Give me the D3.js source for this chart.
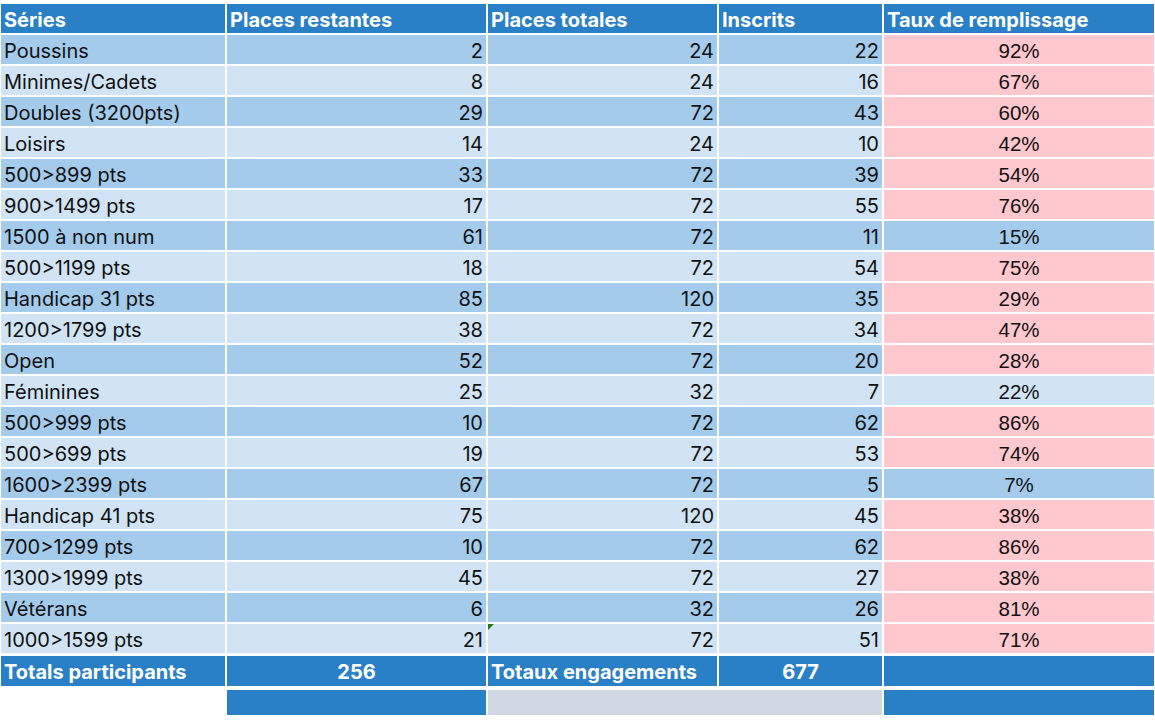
<!DOCTYPE html>
<html><head><meta charset="utf-8">
<script src="https://cdn.jsdelivr.net/npm/d3@7"></script>
<style>html,body{margin:0;padding:0;background:#fff;overflow:hidden}</style>
</head><body>
<svg id="c" width="1155" height="720"></svg>
<script>
const headers = ["Séries","Places restantes","Places totales","Inscrits","Taux de remplissage"];
const series = ["Poussins","Minimes/Cadets","Doubles (3200pts)","Loisirs","500>899 pts","900>1499 pts","1500 à non num","500>1199 pts","Handicap 31 pts","1200>1799 pts","Open","Féminines","500>999 pts","500>699 pts","1600>2399 pts","Handicap 41 pts","700>1299 pts","1300>1999 pts","Vétérans","1000>1599 pts"];
const restantes = [2,8,29,14,33,17,61,18,85,38,52,25,10,19,67,75,10,45,6,21];
const totales = [24,24,72,24,72,72,72,72,120,72,72,32,72,72,72,120,72,72,32,72];
const inscrits = [22,16,43,10,39,55,11,54,35,34,20,7,62,53,5,45,62,27,26,51];
const taux = [92,67,60,42,54,76,15,75,29,47,28,22,86,74,7,38,86,38,81,71];
const totalLabels = ["Totals participants","Totaux engagements"];
const totalValues = [256,677];

const svg = d3.select("#c");
const colEdges = [0,226,487,718,883,1155];
const C = { header:"#2A80C6", dark:"#A4CBEB", light:"#D0E4F5", pink:"#FFC7CE", gray:"#D0D9E3", white:"#ffffff" };
const FONT = "Inter, 'Noto Sans', sans-serif";
const FONTP = "'Liberation Sans', Arial, sans-serif";
const FS = 20;

const y = d3.scaleBand().domain(d3.range(series.length)).range([34, 34 + 31*series.length]).padding(0);
const H = y.bandwidth();

// header
const hdr = svg.append("g");
headers.forEach((h,i)=>{
  hdr.append("rect").attr("x",colEdges[i]).attr("y",3).attr("width",colEdges[i+1]-colEdges[i]).attr("height",31)
    .attr("fill",C.header).attr("stroke","#fff").attr("stroke-width",2);
  hdr.append("text").attr("x",colEdges[i]+4).attr("y",27).text(h)
    .attr("font-family",FONT).attr("font-weight",700).attr("font-size",FS).attr("fill","#fff");
});

// rows
const rows = svg.append("g").selectAll("g").data(series).join("g")
  .attr("transform",(d,i)=>`translate(0,${y(i)})`);
const base = i => i%2===0 ? C.dark : C.light;
for (let c=0;c<5;c++){
  rows.append("rect").attr("x",colEdges[c]).attr("y",0).attr("width",colEdges[c+1]-colEdges[c]).attr("height",H)
    .attr("fill",(d,i)=> c===4 && taux[i]>=25 ? C.pink : base(i))
    .attr("stroke","#fff").attr("stroke-width",2);
}
const ty = H/2 + 8;
rows.append("text").attr("x",4).attr("y",ty).text(d=>d)
  .attr("font-family",FONT).attr("font-size",FS).attr("fill","#111");
[restantes,totales,inscrits].forEach((arr,k)=>{
  rows.append("text").attr("x",colEdges[k+2]-4).attr("y",ty).attr("text-anchor","end")
    .text((d,i)=>arr[i]).attr("font-family",FONT).attr("font-size",FS).attr("fill","#111");
});
rows.append("text").attr("x",(colEdges[4]+colEdges[5])/2).attr("y",ty).attr("text-anchor","middle")
  .text((d,i)=>taux[i]+"%").attr("font-family",FONTP).attr("font-size",20.5).attr("fill","#111");

// green error indicator
const last = series.length-1;
svg.append("path").attr("d",`M${colEdges[2]+1},${y(last)+1} l6,0 l-6,6 z`).attr("fill","#1A7F1A");

// totals row
const ty0 = y(last)+H+1;
const tot = svg.append("g");
for (let c=0;c<5;c++){
  tot.append("rect").attr("x",colEdges[c]).attr("y",ty0).attr("width",colEdges[c+1]-colEdges[c]).attr("height",32)
    .attr("fill",C.header).attr("stroke","#fff").attr("stroke-width",2);
}
tot.append("text").attr("x",4).attr("y",ty0+24).text(totalLabels[0])
  .attr("font-family",FONT).attr("font-weight",700).attr("font-size",FS).attr("fill","#fff");
tot.append("text").attr("x",(colEdges[1]+colEdges[2])/2).attr("y",ty0+24).attr("text-anchor","middle").text(totalValues[0])
  .attr("font-family",FONT).attr("font-weight",700).attr("font-size",FS).attr("fill","#fff");
tot.append("text").attr("x",colEdges[2]+4).attr("y",ty0+24).text(totalLabels[1])
  .attr("font-family",FONT).attr("font-weight",700).attr("font-size",FS).attr("fill","#fff");
tot.append("text").attr("x",(colEdges[3]+colEdges[4])/2).attr("y",ty0+24).attr("text-anchor","middle").text(totalValues[1])
  .attr("font-family",FONT).attr("font-weight",700).attr("font-size",FS).attr("fill","#fff");

// bottom row
const by0 = ty0+34;
const bot = svg.append("g");
[[1,2,C.header],[2,4,C.gray],[4,5,C.header]].forEach(([a,b,f])=>{
  bot.append("rect").attr("x",colEdges[a]).attr("y",by0).attr("width",colEdges[b]-colEdges[a]).attr("height",27)
    .attr("fill",f).attr("stroke","#fff").attr("stroke-width",2);
});
</script>
</body></html>
